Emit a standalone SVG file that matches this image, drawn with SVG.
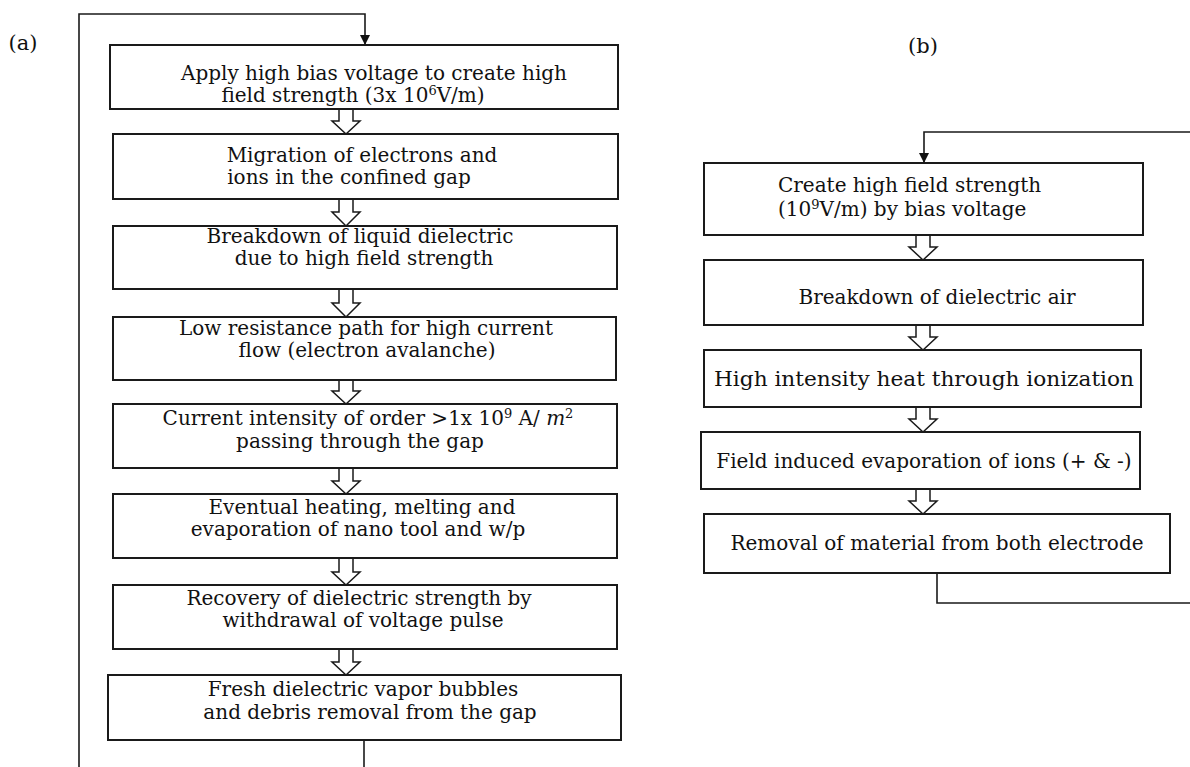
<svg xmlns="http://www.w3.org/2000/svg" width="1190" height="767" viewBox="0 0 1190 767">
<defs>
<marker id="ah" markerWidth="10" markerHeight="10" refX="9" refY="5" orient="auto" markerUnits="userSpaceOnUse">
<path d="M0,0 L10,5 L0,10 Z" fill="#111"/>
</marker>
<style>
.box{fill:#fff;stroke:#1a1a1a;stroke-width:2}
.t{font-family:"DejaVu Serif","Liberation Serif",serif;font-size:20px;fill:#111;text-anchor:middle}
.ts{font-family:"DejaVu Serif","Liberation Serif",serif;font-size:20px;fill:#111}
.lbl{font-family:"DejaVu Serif","Liberation Serif",serif;font-size:21px;fill:#111;text-anchor:middle}
.loop{fill:none;stroke:#1a1a1a;stroke-width:1.6}
.ha{fill:#fff;stroke:#1a1a1a;stroke-width:1.5}
.it{font-style:italic}
.sup{font-size:13px}
</style>
</defs>
<rect width="1190" height="767" fill="#fff"/>
<text class="lbl" x="23" y="50">(a)</text>
<text class="lbl" x="923" y="53">(b)</text>

<g id="connectors">
<path class="loop" d="M364,767 V740"/>
<path class="loop" d="M79,767 V14 H365 V44" marker-end="url(#ah)"/>
<path class="loop" d="M937,573 V603 H1190"/>
<path class="loop" d="M1190,132 H924 V162" marker-end="url(#ah)"/>
<path class="ha" d="M339,109 V121 H332 L346,134 L360,121 H353 V109"/>
<path class="ha" d="M339,199 V212 H332 L346,226 L360,212 H353 V199"/>
<path class="ha" d="M339,289 V303 H332 L346,317 L360,303 H353 V289"/>
<path class="ha" d="M339,380 V391 H332 L346,404 L360,391 H353 V380"/>
<path class="ha" d="M339,468 V481 H332 L346,494 L360,481 H353 V468"/>
<path class="ha" d="M339,558 V572 H332 L346,585 L360,572 H353 V558"/>
<path class="ha" d="M339,649 V662 H332 L346,675 L360,662 H353 V649"/>
<path class="ha" d="M916,235 V247 H909 L923,260 L937,247 H930 V235"/>
<path class="ha" d="M916,325 V337 H909 L923,350 L937,337 H930 V325"/>
<path class="ha" d="M916,407 V419 H909 L923,432 L937,419 H930 V407"/>
<path class="ha" d="M916,489 V501 H909 L923,514 L937,501 H930 V489"/>
</g>

<g id="a1"><rect class="box" x="110" y="45" width="508" height="64"/>
<text class="t" x="374" y="80">Apply high bias voltage to create high</text>
<text class="t" x="353" y="102">field strength (3x 10<tspan class="sup" dy="-7">6</tspan><tspan dy="7">V/m)</tspan></text></g>

<g id="a2"><rect class="box" x="113" y="134" width="505" height="65"/>
<text class="t" x="362" y="162">Migration of electrons and</text>
<text class="t" x="349" y="184">ions in the confined gap</text></g>

<g id="a3"><rect class="box" x="113" y="226" width="504" height="63"/>
<text class="t" x="360" y="243">Breakdown of liquid dielectric</text>
<text class="t" x="364" y="265">due to high field strength</text></g>

<g id="a4"><rect class="box" x="113" y="317" width="503" height="63"/>
<text class="t" x="366" y="335">Low resistance path for high current</text>
<text class="t" x="367" y="357">flow (electron avalanche)</text></g>

<g id="a5"><rect class="box" x="113" y="404" width="504" height="64"/>
<text class="t" x="368" y="425">Current intensity of order &gt;1x 10<tspan class="sup" dy="-7">9</tspan><tspan dy="7"> A/ </tspan><tspan class="it">m</tspan><tspan class="sup" dy="-7">2</tspan></text>
<text class="t" x="360" y="448">passing through the gap</text></g>

<g id="a6"><rect class="box" x="113" y="494" width="504" height="64"/>
<text class="t" x="362" y="514">Eventual heating, melting and</text>
<text class="t" x="358" y="536">evaporation of nano tool and w/p</text></g>

<g id="a7"><rect class="box" x="113" y="585" width="504" height="64"/>
<text class="t" x="359" y="605">Recovery of dielectric strength by</text>
<text class="t" x="363" y="627">withdrawal of voltage pulse</text></g>

<g id="a8"><rect class="box" x="108" y="675" width="513" height="65"/>
<text class="t" x="363" y="696">Fresh dielectric vapor bubbles</text>
<text class="t" x="370" y="719">and debris removal from the gap</text></g>

<g id="b1"><rect class="box" x="704" y="163" width="439" height="72"/>
<text class="ts" x="778" y="192">Create high field strength</text>
<text class="ts" x="778" y="216">(10<tspan class="sup" dy="-7">9</tspan><tspan dy="7">V/m) by bias voltage</tspan></text></g>

<g id="b2"><rect class="box" x="704" y="260" width="439" height="65"/>
<text class="t" x="937" y="304">Breakdown of dielectric air</text></g>

<g id="b3"><rect class="box" x="704" y="350" width="437" height="57"/>
<text class="ts" x="714" y="386" textLength="420" lengthAdjust="spacingAndGlyphs">High intensity heat through ionization</text></g>

<g id="b4"><rect class="box" x="701" y="432" width="439" height="57"/>
<text class="t" x="924" y="468">Field induced evaporation of ions (+ &amp; -)</text></g>

<g id="b5"><rect class="box" x="704" y="514" width="466" height="59"/>
<text class="t" x="937" y="550">Removal of material from both electrode</text></g>
</svg>
